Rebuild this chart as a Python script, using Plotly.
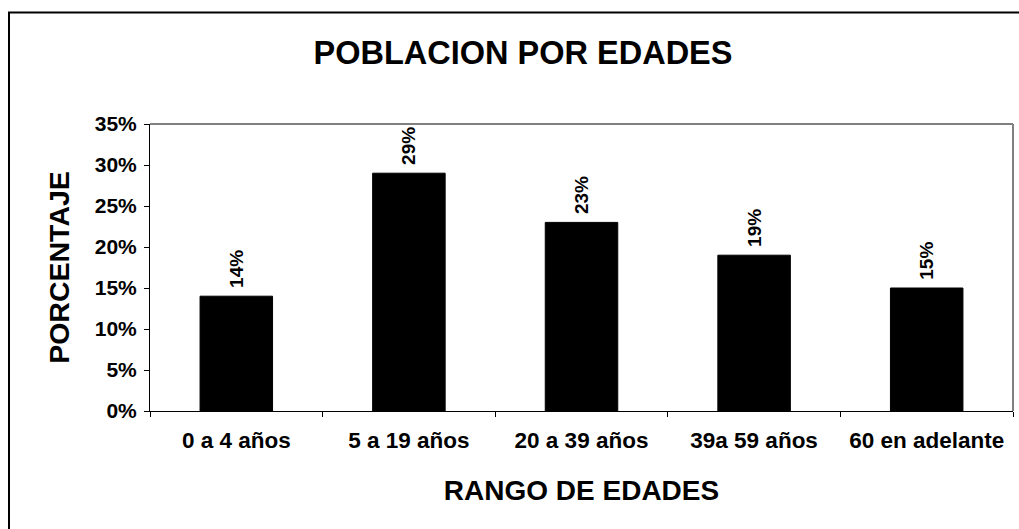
import plotly.graph_objects as go

categories = ["0 a 4 años", "5 a 19 años", "20 a 39 años", "39a 59 años", "60 en adelante"]
values = [0.14, 0.29, 0.23, 0.19, 0.15]
labels = ["14%", "29%", "23%", "19%", "15%"]
y_ticks = [0, 0.05, 0.10, 0.15, 0.20, 0.25, 0.30, 0.35]

FONT = "Arial, Liberation Sans, sans-serif"

fig = go.Figure(go.Bar(
    x=categories, y=values, text=labels, texttemplate="\u00a0%{text}",
    textposition="outside", textangle=-90,
    textfont=dict(family=FONT, size=19, color="black", weight="bold"),
    marker=dict(color="black", line=dict(color="black", width=1)),
    cliponaxis=False, width=0.42,
))

W, H = 1019, 529
L, R, T, B = 150, 6, 124, 118
pw, ph = W - L - R, H - T - B

def px(x):
    return (x - L) / pw

def py(y):
    return (H - B - y) / ph

fig.update_layout(
    width=W, height=H,
    margin=dict(l=L, r=R, t=T, b=B, autoexpand=False),
    paper_bgcolor="white", plot_bgcolor="white",
    font=dict(family=FONT, color="black"),
    showlegend=False,
    title=dict(text="<b>POBLACION POR EDADES</b>", x=px(523), xref="paper", xanchor="center",
               y=1 - 53 / H, yanchor="middle", font=dict(size=32.5, family=FONT, color="black")),
    xaxis=dict(
        automargin=False,
        showline=True, linecolor="black", linewidth=1,
        ticks="outside", ticklen=5, tickcolor="black", tickson="boundaries",
        tickfont=dict(size=22.5, family=FONT, color="black", weight="bold"),
        ticklabelstandoff=9,
        showgrid=False, zeroline=False,
        title=dict(text="<b>RANGO DE EDADES</b>", font=dict(size=28, family=FONT, color="black"), standoff=28),
    ),
    yaxis=dict(
        automargin=False,
        range=[0, 0.35], tickvals=y_ticks, tickformat=".0%",
        showline=True, linecolor="black", linewidth=1,
        ticks="outside", ticklen=5, tickcolor="black",
        tickfont=dict(size=21, family=FONT, color="black", weight="bold"),
        ticklabelstandoff=3,
        showgrid=False, zeroline=False,
        title=dict(text="<b>PORCENTAJE</b>", font=dict(size=28.5, family=FONT, color="black"), standoff=16),
    ),
)

# gray top and right plot-area border
fig.add_shape(type="line", xref="paper", yref="paper", x0=0, x1=1, y0=1, y1=1,
              line=dict(color="#808080", width=2))
fig.add_shape(type="line", xref="paper", yref="paper", x0=1, x1=1, y0=0, y1=1,
              line=dict(color="#808080", width=2))
# outer chart border
fig.add_shape(type="rect", xref="paper", yref="paper",
              x0=px(9), x1=px(1030), y0=py(540), y1=py(12.5),
              line=dict(color="black", width=2), fillcolor="rgba(0,0,0,0)")

fig.write_html("out.html", config={"displayModeBar": False},
               post_script="document.body.style.margin='0px';")
